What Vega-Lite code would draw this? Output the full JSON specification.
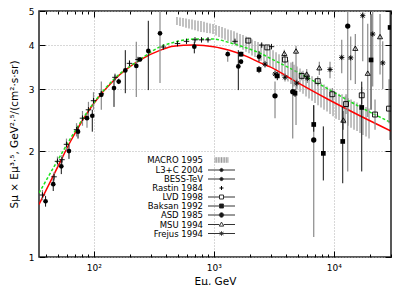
{
  "$schema": "https://vega.github.io/schema/vega-lite/v6.json",
  "width": 352,
  "height": 246,
  "autosize": {"type": "none"},
  "padding": {"left": 39, "top": 11, "right": 16, "bottom": 28},
  "background": "white",
  "datasets": {
    "macro": [
      {"E":494,"lo":4.56,"hi":4.81},{"E":523.6,"lo":4.53,"hi":4.79},{"E":554.6,"lo":4.51,"hi":4.78},{"E":587.5,"lo":4.48,"hi":4.76},
      {"E":622.3,"lo":4.46,"hi":4.74},{"E":659.2,"lo":4.43,"hi":4.73},{"E":698.2,"lo":4.41,"hi":4.71},{"E":739.6,"lo":4.38,"hi":4.69},
      {"E":783.4,"lo":4.36,"hi":4.68},{"E":829.8,"lo":4.35,"hi":4.66},{"E":879,"lo":4.33,"hi":4.63},{"E":931.1,"lo":4.32,"hi":4.61},
      {"E":986.3,"lo":4.30,"hi":4.59},{"E":1044.7,"lo":4.26,"hi":4.56},{"E":1106.6,"lo":4.22,"hi":4.53},{"E":1172.2,"lo":4.18,"hi":4.50},
      {"E":1241.6,"lo":4.14,"hi":4.47},{"E":1315.2,"lo":4.10,"hi":4.43},{"E":1393.1,"lo":4.06,"hi":4.41},{"E":1475.6,"lo":4.02,"hi":4.38},
      {"E":1563.1,"lo":3.97,"hi":4.34},{"E":1655.7,"lo":3.93,"hi":4.30},{"E":1753.8,"lo":3.88,"hi":4.27},{"E":1857.7,"lo":3.83,"hi":4.23},
      {"E":1967.7,"lo":3.79,"hi":4.19},{"E":2084.3,"lo":3.74,"hi":4.15},{"E":2207.8,"lo":3.70,"hi":4.11},{"E":2338.6,"lo":3.65,"hi":4.08},
      {"E":2477.2,"lo":3.61,"hi":4.04},{"E":2624,"lo":3.57,"hi":4.01},{"E":2779.4,"lo":3.53,"hi":3.97},{"E":2944,"lo":3.47,"hi":3.92},
      {"E":3119,"lo":3.42,"hi":3.87},{"E":3304,"lo":3.37,"hi":3.82},{"E":3499,"lo":3.31,"hi":3.77},{"E":3707,"lo":3.26,"hi":3.72},
      {"E":3926,"lo":3.20,"hi":3.67},{"E":4159,"lo":3.15,"hi":3.62},{"E":4405,"lo":3.10,"hi":3.57},{"E":4666,"lo":3.05,"hi":3.52},
      {"E":4943,"lo":3.00,"hi":3.48},{"E":5236,"lo":2.95,"hi":3.43},{"E":5546,"lo":2.91,"hi":3.38},{"E":5875,"lo":2.86,"hi":3.34},
      {"E":6223,"lo":2.82,"hi":3.30},{"E":6592,"lo":2.78,"hi":3.26},{"E":6982,"lo":2.74,"hi":3.21},{"E":7396,"lo":2.70,"hi":3.17},
      {"E":7834,"lo":2.66,"hi":3.13},{"E":8298,"lo":2.62,"hi":3.09},{"E":8790,"lo":2.59,"hi":3.05},{"E":9311,"lo":2.55,"hi":3.01},
      {"E":9863,"lo":2.51,"hi":2.97},{"E":10447,"lo":2.47,"hi":2.94},{"E":11066,"lo":2.45,"hi":2.91},{"E":11722,"lo":2.42,"hi":2.90},
      {"E":12416,"lo":2.39,"hi":2.86},{"E":13152,"lo":2.36,"hi":2.83},{"E":13931,"lo":2.33,"hi":2.80},{"E":14757,"lo":2.30,"hi":2.77},
      {"E":15631,"lo":2.28,"hi":2.75},{"E":16557,"lo":2.25,"hi":2.72},{"E":17538,"lo":2.22,"hi":2.69},{"E":18577,"lo":2.20,"hi":2.67},
      {"E":19678,"lo":2.17,"hi":2.64}
    ],
    "curves": [
      {"E":35,"red":1.41,"green":1.52},{"E":50,"red":1.80,"green":1.88},{"E":65,"red":2.15,"green":2.19},
      {"E":100,"red":2.73,"green":2.74},{"E":150,"red":3.20,"green":3.22},{"E":240,"red":3.62,"green":3.63},
      {"E":360,"red":3.87,"green":3.96},{"E":460,"red":3.97,"green":4.07},{"E":680,"red":4.00,"green":4.16},
      {"E":1000,"red":3.96,"green":4.16},{"E":1370,"red":3.86,"green":4.06},{"E":1900,"red":3.71,"green":3.92},
      {"E":2450,"red":3.56,"green":3.79},{"E":2950,"red":3.47,"green":3.67},{"E":4600,"red":3.18,"green":3.40},
      {"E":8700,"red":2.82,"green":3.02},{"E":16500,"red":2.52,"green":2.67},{"E":30000,"red":2.28,"green":2.41}
    ],
    "pts": [
      {"s":"L3+C 2004","E":39.7,"y":1.44,"lo":1.39,"hi":1.49},
      {"s":"L3+C 2004","E":46.0,"y":1.61,"lo":1.54,"hi":1.67},
      {"s":"L3+C 2004","E":53.7,"y":1.81,"lo":1.72,"hi":1.89},
      {"s":"L3+C 2004","E":62.2,"y":2.00,"lo":1.90,"hi":2.08},
      {"s":"L3+C 2004","E":74.0,"y":2.27,"lo":2.17,"hi":2.35},
      {"s":"L3+C 2004","E":97.3,"y":2.52,"lo":2.27,"hi":2.62},
      {"s":"L3+C 2004","E":147.6,"y":3.02,"lo":2.67,"hi":3.18},
      {"s":"L3+C 2004","E":161.5,"y":3.15,"lo":3.10,"hi":3.21},
      {"s":"L3+C 2004","E":183.3,"y":3.39,"lo":2.92,"hi":3.87},
      {"s":"L3+C 2004","E":243,"y":3.64,"lo":3.59,"hi":3.70},
      {"s":"L3+C 2004","E":285,"y":3.85,"lo":2.98,"hi":4.69},
      {"s":"L3+C 2004","E":689,"y":3.96,"lo":3.79,"hi":4.09},
      {"s":"L3+C 2004","E":1603,"y":3.48,"lo":2.98,"hi":3.87},
      {"s":"L3+C 2004","E":2384,"y":3.71,"lo":3.59,"hi":3.85},
      {"s":"BESS-TeV","E":87.9,"y":2.48,"lo":2.33,"hi":2.55},
      {"s":"BESS-TeV","E":115.7,"y":2.89,"lo":2.62,"hi":3.15},
      {"s":"BESS-TeV","E":226.4,"y":3.49,"lo":2.85,"hi":4.09},
      {"s":"BESS-TeV","E":356.7,"y":4.32,"lo":3.12,"hi":5.0},
      {"s":"BESS-TeV","E":1308,"y":3.77,"lo":3.59,"hi":3.87},
      {"s":"BESS-TeV","E":1688,"y":3.59,"lo":3.53,"hi":3.65},
      {"s":"Rastin 1984","E":37.4,"y":1.50,"lo":1.45,"hi":1.55},
      {"s":"Rastin 1984","E":46.7,"y":1.69,"lo":1.64,"hi":1.74},
      {"s":"Rastin 1984","E":49.9,"y":1.87,"lo":1.81,"hi":1.93},
      {"s":"Rastin 1984","E":54.4,"y":1.89,"lo":1.84,"hi":1.95},
      {"s":"Rastin 1984","E":59.3,"y":2.09,"lo":2.01,"hi":2.17},
      {"s":"Rastin 1984","E":71.9,"y":2.30,"lo":2.20,"hi":2.40},
      {"s":"Rastin 1984","E":80.6,"y":2.48,"lo":2.36,"hi":2.60},
      {"s":"Rastin 1984","E":90.4,"y":2.62,"lo":2.48,"hi":2.76},
      {"s":"Rastin 1984","E":99.6,"y":2.78,"lo":2.62,"hi":2.94},
      {"s":"Rastin 1984","E":115.7,"y":2.91,"lo":2.85,"hi":2.97},
      {"s":"Rastin 1984","E":150.4,"y":3.24,"lo":3.16,"hi":3.32},
      {"s":"Rastin 1984","E":198.7,"y":3.55,"lo":3.48,"hi":3.62},
      {"s":"Rastin 1984","E":233.9,"y":3.64,"lo":3.60,"hi":3.68},
      {"s":"Rastin 1984","E":380,"y":3.95,"lo":3.90,"hi":4.00},
      {"s":"Rastin 1984","E":499,"y":4.04,"lo":4.00,"hi":4.08},
      {"s":"Rastin 1984","E":593,"y":4.10,"lo":4.06,"hi":4.14},
      {"s":"Rastin 1984","E":698,"y":4.14,"lo":4.10,"hi":4.18},
      {"s":"Rastin 1984","E":791,"y":4.14,"lo":4.10,"hi":4.18},
      {"s":"Rastin 1984","E":896,"y":4.14,"lo":4.10,"hi":4.18},
      {"s":"Rastin 1984","E":1504,"y":4.10,"lo":4.06,"hi":4.14},
      {"s":"Rastin 1984","E":2511,"y":4.00,"lo":3.96,"hi":4.04},
      {"s":"Rastin 1984","E":3030,"y":3.96,"lo":3.92,"hi":4.00},
      {"s":"LVD 1998","E":1942,"y":4.12,"lo":4.04,"hi":4.20},
      {"s":"LVD 1998","E":2796,"y":3.94,"lo":3.88,"hi":4.00},
      {"s":"LVD 1998","E":3926,"y":3.64,"lo":3.55,"hi":3.73},
      {"s":"LVD 1998","E":5410,"y":3.27,"lo":3.18,"hi":3.36},
      {"s":"LVD 1998","E":7355,"y":3.16,"lo":3.06,"hi":3.26},
      {"s":"LVD 1998","E":9732,"y":2.90,"lo":2.78,"hi":3.02},
      {"s":"LVD 1998","E":12660,"y":2.72,"lo":2.55,"hi":2.90},
      {"s":"LVD 1998","E":17110,"y":2.88,"lo":2.72,"hi":3.04},
      {"s":"LVD 1998","E":22080,"y":2.54,"lo":2.30,"hi":2.80},
      {"s":"LVD 1998","E":28890,"y":2.64,"lo":2.40,"hi":3.20},
      {"s":"Baksan 1992","E":1688,"y":3.77,"lo":3.71,"hi":3.83},
      {"s":"Baksan 1992","E":2384,"y":3.41,"lo":3.33,"hi":3.49},
      {"s":"Baksan 1992","E":3387,"y":3.27,"lo":3.18,"hi":3.36},
      {"s":"Baksan 1992","E":4757,"y":2.92,"lo":2.85,"hi":3.00},
      {"s":"Baksan 1992","E":6812,"y":2.38,"lo":2.27,"hi":2.70},
      {"s":"Baksan 1992","E":8188,"y":1.97,"lo":1.65,"hi":2.35},
      {"s":"Baksan 1992","E":11882,"y":2.13,"lo":1.62,"hi":2.67},
      {"s":"Baksan 1992","E":17110,"y":2.66,"lo":1.75,"hi":3.15},
      {"s":"Baksan 1992","E":20450,"y":3.63,"lo":2.62,"hi":4.90},
      {"s":"Baksan 1992","E":29500,"y":4.49,"lo":2.15,"hi":5.0},
      {"s":"ASD 1985","E":3241,"y":2.87,"lo":2.48,"hi":3.15},
      {"s":"ASD 1985","E":4552,"y":2.95,"lo":2.17,"hi":3.59},
      {"s":"ASD 1985","E":6812,"y":2.15,"lo":1.14,"hi":2.70},
      {"s":"ASD 1985","E":13080,"y":4.53,"lo":1.75,"hi":5.0},
      {"s":"MSU 1994","E":3875,"y":3.79,"lo":3.70,"hi":3.88},
      {"s":"MSU 1994","E":4850,"y":3.85,"lo":2.37,"hi":3.98},
      {"s":"MSU 1994","E":5955,"y":3.31,"lo":3.20,"hi":3.42},
      {"s":"MSU 1994","E":7584,"y":3.45,"lo":3.29,"hi":3.59},
      {"s":"MSU 1994","E":12020,"y":2.45,"lo":2.30,"hi":2.60},
      {"s":"MSU 1994","E":15130,"y":3.92,"lo":3.10,"hi":4.30},
      {"s":"MSU 1994","E":19200,"y":3.33,"lo":2.50,"hi":4.60},
      {"s":"MSU 1994","E":24310,"y":4.23,"lo":3.30,"hi":4.90},
      {"s":"Frejus 1994","E":2675,"y":3.53,"lo":3.45,"hi":3.61},
      {"s":"Frejus 1994","E":3241,"y":3.31,"lo":3.22,"hi":3.40},
      {"s":"Frejus 1994","E":3926,"y":3.24,"lo":3.15,"hi":3.33},
      {"s":"Frejus 1994","E":4915,"y":3.12,"lo":3.03,"hi":3.21},
      {"s":"Frejus 1994","E":6024,"y":3.22,"lo":3.12,"hi":3.32},
      {"s":"Frejus 1994","E":9311,"y":3.41,"lo":3.22,"hi":3.59},
      {"s":"Frejus 1994","E":11657,"y":3.69,"lo":3.33,"hi":4.14},
      {"s":"Frejus 1994","E":13850,"y":3.68,"lo":3.18,"hi":4.23},
      {"s":"Frejus 1994","E":17440,"y":4.85,"lo":3.60,"hi":5.0},
      {"s":"Frejus 1994","E":21120,"y":4.30,"lo":3.05,"hi":5.0},
      {"s":"Frejus 1994","E":25600,"y":3.56,"lo":3.00,"hi":4.10}
    ],
    "leg": [
      {"s":"MACRO 1995"},{"s":"L3+C 2004"},{"s":"BESS-TeV"},{"s":"Rastin 1984"},{"s":"LVD 1998"},
      {"s":"Baksan 1992"},{"s":"ASD 1985"},{"s":"MSU 1994"},{"s":"Frejus 1994"}
    ]
  },
  "layer": [
    {
      "data": {"name": "macro"},
      "mark": {"type": "rule", "color": "#989898", "strokeWidth": 1.2, "clip": true},
      "encoding": {
        "x": {"field": "E", "type": "quantitative",
          "scale": {"type": "log", "domain": [35, 30000], "nice": false},
          "axis": {
            "orient": "bottom",
            "values": [40,50,60,70,80,90,100,200,300,400,500,600,700,800,900,1000,2000,3000,4000,5000,6000,7000,8000,9000,10000,20000,30000],
            "labelExpr": "datum.value == 100 ? '10²' : datum.value == 1000 ? '10³' : datum.value == 10000 ? '10⁴' : ''",
            "tickSize": {"condition": {"test": "datum.value == 100 || datum.value == 1000 || datum.value == 10000", "value": -6}, "value": -3},
            "grid": true,
            "gridOpacity": {"condition": {"test": "datum.value == 100 || datum.value == 1000 || datum.value == 10000", "value": 1}, "value": 0},
            "labelPadding": 12,
            "labelOverlap": false,
            "labelFlush": false,
            "title": "Eμ, GeV",
            "titlePadding": 1
          }
        },
        "y": {"field": "lo", "type": "quantitative",
          "scale": {"type": "log", "domain": [1, 5], "nice": false},
          "axis": {
            "orient": "left",
            "values": [1, 2, 3, 4, 5],
            "format": "~g",
            "tickSize": -6,
            "grid": true,
            "labelPadding": 11,
            "title": "Sμ × Eμ³·⁵, GeV²·⁵/(cm²·s·sr)",
            "titlePadding": 9
          }
        },
        "y2": {"field": "hi"}
      }
    },
    {
      "data": {"name": "curves"},
      "mark": {"type": "line", "color": "#ff0000", "strokeWidth": 1.5, "interpolate": "monotone", "clip": true},
      "encoding": {
        "x": {"field": "E", "type": "quantitative",
          "scale": {"type": "log", "domain": [35, 30000], "nice": false},
          "axis": {
            "orient": "top",
            "values": [40,50,60,70,80,90,100,200,300,400,500,600,700,800,900,1000,2000,3000,4000,5000,6000,7000,8000,9000,10000,20000,30000],
            "labels": false,
            "tickSize": {"condition": {"test": "datum.value == 100 || datum.value == 1000 || datum.value == 10000", "value": -6}, "value": -3},
            "grid": false,
            "title": null
          }
        },
        "y": {"field": "red", "type": "quantitative",
          "scale": {"type": "log", "domain": [1, 5], "nice": false},
          "axis": {"orient": "right", "values": [1, 2, 3, 4, 5], "labels": false, "tickSize": -6, "grid": false, "title": null}
        }
      }
    },
    {
      "data": {"name": "curves"},
      "mark": {"type": "line", "color": "#1ee01e", "strokeWidth": 1.5, "strokeDash": [3, 2], "interpolate": "monotone", "clip": true},
      "encoding": {
        "x": {"field": "E", "type": "quantitative", "scale": {"type": "log", "domain": [35, 30000], "nice": false}, "axis": null},
        "y": {"field": "green", "type": "quantitative", "scale": {"type": "log", "domain": [1, 5], "nice": false}, "axis": null}
      }
    },
    {
      "data": {"name": "pts"},
      "transform": [{"filter": {"field": "s", "oneOf": ["BESS-TeV", "Rastin 1984", "LVD 1998", "ASD 1985", "MSU 1994", "Frejus 1994"]}}],
      "mark": {"type": "rule", "color": "#8a8a8a", "strokeWidth": 1.2, "clip": true},
      "encoding": {
        "x": {"field": "E", "type": "quantitative", "scale": {"type": "log", "domain": [35, 30000], "nice": false}, "axis": null},
        "y": {"field": "lo", "type": "quantitative", "scale": {"type": "log", "domain": [1, 5], "nice": false}, "axis": null},
        "y2": {"field": "hi"}
      }
    },
    {
      "data": {"name": "pts"},
      "transform": [{"filter": {"field": "s", "oneOf": ["L3+C 2004", "Baksan 1992"]}}],
      "mark": {"type": "rule", "color": "#111111", "strokeWidth": 1, "clip": true},
      "encoding": {
        "x": {"field": "E", "type": "quantitative", "scale": {"type": "log", "domain": [35, 30000], "nice": false}, "axis": null},
        "y": {"field": "lo", "type": "quantitative", "scale": {"type": "log", "domain": [1, 5], "nice": false}, "axis": null},
        "y2": {"field": "hi"}
      }
    },
    {
      "data": {"name": "pts"},
      "transform": [{"filter": {"field": "s", "oneOf": ["L3+C 2004", "BESS-TeV"]}}],
      "mark": {"type": "point", "shape": "circle", "filled": true, "size": 22, "color": "#000000", "opacity": 1, "clip": true},
      "encoding": {
        "x": {"field": "E", "type": "quantitative", "scale": {"type": "log", "domain": [35, 30000], "nice": false}, "axis": null},
        "y": {"field": "y", "type": "quantitative", "scale": {"type": "log", "domain": [1, 5], "nice": false}, "axis": null}
      }
    },
    {
      "data": {"name": "pts"},
      "transform": [{"filter": {"field": "s", "equal": "ASD 1985"}}],
      "mark": {"type": "point", "shape": "circle", "filled": true, "size": 28, "color": "#000000", "opacity": 1, "clip": true},
      "encoding": {
        "x": {"field": "E", "type": "quantitative", "scale": {"type": "log", "domain": [35, 30000], "nice": false}, "axis": null},
        "y": {"field": "y", "type": "quantitative", "scale": {"type": "log", "domain": [1, 5], "nice": false}, "axis": null}
      }
    },
    {
      "data": {"name": "pts"},
      "transform": [{"filter": {"field": "s", "equal": "Baksan 1992"}}],
      "mark": {"type": "point", "shape": "square", "filled": true, "size": 22, "color": "#000000", "opacity": 1, "clip": true},
      "encoding": {
        "x": {"field": "E", "type": "quantitative", "scale": {"type": "log", "domain": [35, 30000], "nice": false}, "axis": null},
        "y": {"field": "y", "type": "quantitative", "scale": {"type": "log", "domain": [1, 5], "nice": false}, "axis": null}
      }
    },
    {
      "data": {"name": "pts"},
      "transform": [{"filter": {"field": "s", "equal": "LVD 1998"}}],
      "mark": {"type": "point", "shape": "square", "filled": false, "size": 24, "color": "#000000", "strokeWidth": 0.9, "opacity": 1, "clip": true},
      "encoding": {
        "x": {"field": "E", "type": "quantitative", "scale": {"type": "log", "domain": [35, 30000], "nice": false}, "axis": null},
        "y": {"field": "y", "type": "quantitative", "scale": {"type": "log", "domain": [1, 5], "nice": false}, "axis": null}
      }
    },
    {
      "data": {"name": "pts"},
      "transform": [{"filter": {"field": "s", "equal": "MSU 1994"}}],
      "mark": {"type": "point", "shape": "triangle-up", "filled": false, "size": 26, "color": "#000000", "strokeWidth": 0.9, "opacity": 1, "clip": true},
      "encoding": {
        "x": {"field": "E", "type": "quantitative", "scale": {"type": "log", "domain": [35, 30000], "nice": false}, "axis": null},
        "y": {"field": "y", "type": "quantitative", "scale": {"type": "log", "domain": [1, 5], "nice": false}, "axis": null}
      }
    },
    {
      "data": {"name": "pts"},
      "transform": [{"filter": {"field": "s", "equal": "Rastin 1984"}}],
      "mark": {"type": "point", "shape": "M-1,0H1M0,-1V1", "filled": false, "size": 30, "color": "#000000", "strokeWidth": 0.9, "opacity": 1, "clip": true},
      "encoding": {
        "x": {"field": "E", "type": "quantitative", "scale": {"type": "log", "domain": [35, 30000], "nice": false}, "axis": null},
        "y": {"field": "y", "type": "quantitative", "scale": {"type": "log", "domain": [1, 5], "nice": false}, "axis": null}
      }
    },
    {
      "data": {"name": "pts"},
      "transform": [{"filter": {"field": "s", "equal": "Frejus 1994"}}],
      "mark": {"type": "point", "shape": "M-1,0H1M0,-1V1M-0.75,-0.75L0.75,0.75M-0.75,0.75L0.75,-0.75", "filled": false, "size": 28, "color": "#000000", "strokeWidth": 0.9, "opacity": 1, "clip": true},
      "encoding": {
        "x": {"field": "E", "type": "quantitative", "scale": {"type": "log", "domain": [35, 30000], "nice": false}, "axis": null},
        "y": {"field": "y", "type": "quantitative", "scale": {"type": "log", "domain": [1, 5], "nice": false}, "axis": null}
      }
    },
    {
      "data": {"name": "leg"},
      "mark": {"type": "point", "opacity": 0, "filled": true},
      "encoding": {
        "shape": {"field": "s", "type": "nominal",
          "scale": {
            "domain": ["MACRO 1995","L3+C 2004","BESS-TeV","Rastin 1984","LVD 1998","Baksan 1992","ASD 1985","MSU 1994","Frejus 1994"],
            "range": [
              "M-3.2,-1.4V1.4M-2.4,-1.4V1.4M-1.6,-1.4V1.4M-0.8,-1.4V1.4M0,-1.4V1.4M0.8,-1.4V1.4M1.6,-1.4V1.4M2.4,-1.4V1.4M3.2,-1.4V1.4",
              "M-6.75,0H6.75M-0.8,0A0.8,0.8,0,1,0,0.8,0A0.8,0.8,0,1,0,-0.8,0Z",
              "M-6.75,0H6.75M-0.8,0A0.8,0.8,0,1,0,0.8,0A0.8,0.8,0,1,0,-0.8,0Z",
              "M-1,0H1M0,-1V1",
              "M-6.75,0H-1M1,0H6.75M-1,-1H1V1H-1Z",
              "M-6.75,0H6.75M-1,-1H1V1H-1Z",
              "M-6.75,0H6.75M-1.1,0A1.1,1.1,0,1,0,1.1,0A1.1,1.1,0,1,0,-1.1,0Z",
              "M-6.75,0H-1.1M1.1,0H6.75M0,-1.2L1.1,0.8H-1.1Z",
              "M-6.75,0H6.75M0,-1.1V1.1M-1,-0.7L1,0.7M-1,0.7L1,-0.7"
            ]
          },
          "legend": {"title": null, "orient": "none", "legendX": 178.25, "legendY": 144.75}
        },
        "fill": {"field": "s", "type": "nominal",
          "scale": {
            "domain": ["MACRO 1995","L3+C 2004","BESS-TeV","Rastin 1984","LVD 1998","Baksan 1992","ASD 1985","MSU 1994","Frejus 1994"],
            "range": ["transparent","#000000","#000000","transparent","transparent","#000000","#000000","transparent","transparent"]
          },
          "legend": {"title": null, "orient": "none", "legendX": 178.25, "legendY": 144.75}
        },
        "stroke": {"field": "s", "type": "nominal",
          "scale": {
            "domain": ["MACRO 1995","L3+C 2004","BESS-TeV","Rastin 1984","LVD 1998","Baksan 1992","ASD 1985","MSU 1994","Frejus 1994"],
            "range": ["#999999","#333333","#333333","#000000","#333333","#333333","#333333","#333333","#333333"]
          },
          "legend": {"title": null, "orient": "none", "legendX": 178.25, "legendY": 144.75}
        }
      }
    }
  ],
  "resolve": {"axis": {"x": "independent", "y": "independent"}},
  "config": {
    "view": {"stroke": "#222222", "strokeWidth": 1.5},
    "axis": {
      "domain": false,
      "labelFont": "DejaVu Sans",
      "labelFontSize": 9,
      "labelColor": "#000000",
      "titleFont": "DejaVu Sans",
      "titleFontSize": 10.5,
      "titleFontWeight": "normal",
      "titleColor": "#000000",
      "tickColor": "#000000",
      "tickWidth": 1,
      "gridColor": "#b0b0b0",
      "gridDash": [1, 2],
      "gridWidth": 1
    },
    "legend": {
      "direction": "vertical",
      "labelAlign": "right",
      "labelOffset": -22.75,
      "labelFont": "DejaVu Sans",
      "labelFontSize": 8.5,
      "labelColor": "#000000",
      "symbolSize": 16,
      "symbolStrokeWidth": 1,
      "symbolOpacity": 1,
      "rowPadding": -0.5,
      "padding": 0
    }
  }
}
